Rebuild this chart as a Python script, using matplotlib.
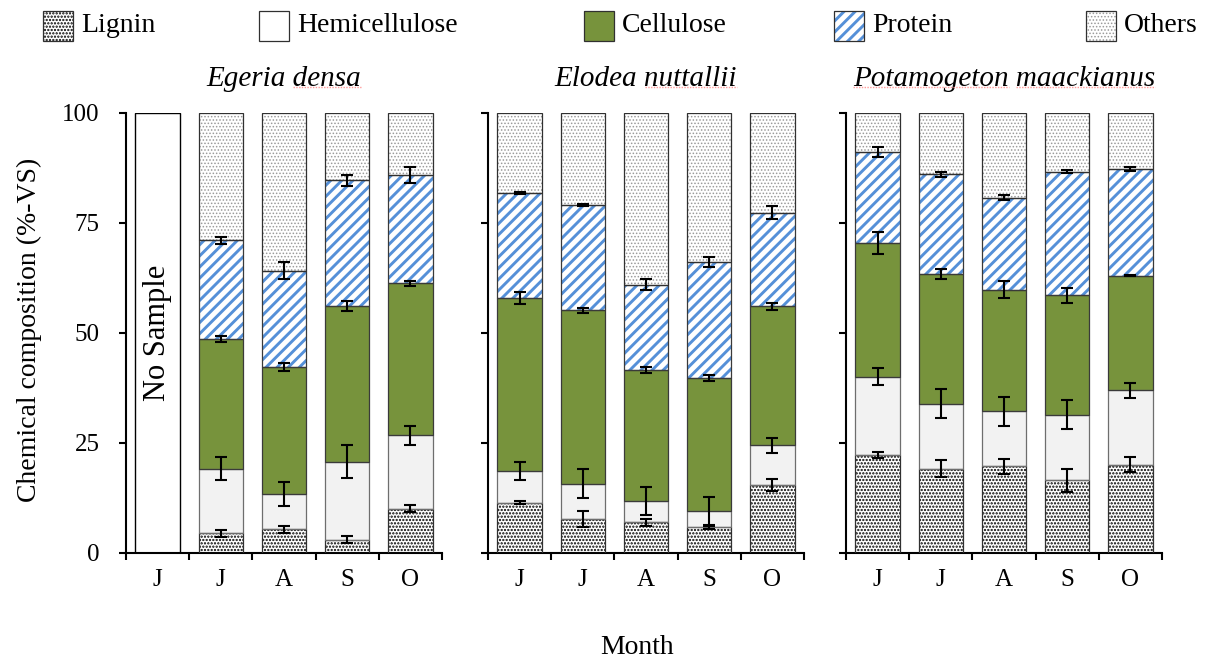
import numpy as np
import matplotlib
matplotlib.use("Agg")
import matplotlib.pyplot as plt
from matplotlib.patches import Rectangle
from matplotlib.lines import Line2D

plt.rcParams['font.family'] = ['Liberation Serif', 'DejaVu Serif']
plt.rcParams['hatch.linewidth'] = 1.0

# ---- data (%-VS), segment sizes ----
species = ['Egeria densa', 'Elodea nuttallii', 'Potamogeton maackianus']
months = ['J', 'J', 'A', 'S', 'O']
components = ['Lignin', 'Hemicellulose', 'Cellulose', 'Protein', 'Others']

# Egeria densa: no sample in June (first month)
egeria_lignin = [np.nan, 4.4, 5.3, 3.0, 10.0]
egeria_hemi = [np.nan, 14.7, 8.1, 17.7, 16.7]
egeria_cell = [np.nan, 29.4, 28.9, 35.4, 34.5]
egeria_prot = [np.nan, 22.5, 21.8, 28.5, 24.6]
egeria_other = [np.nan, 29.0, 35.9, 15.4, 14.2]
egeria_err = [[np.nan, 0.75, 0.8, 0.9, 0.8],
              [np.nan, 2.6, 2.7, 3.8, 2.2],
              [np.nan, 0.65, 0.9, 1.1, 0.5],
              [np.nan, 0.75, 2.0, 1.25, 1.8]]

elodea_lignin = [11.4, 7.6, 6.9, 5.9, 15.4]
elodea_hemi = [7.2, 8.1, 4.9, 3.5, 9.0]
elodea_cell = [39.2, 39.4, 29.7, 30.3, 31.6]
elodea_prot = [24.0, 24.0, 19.4, 26.4, 21.3]
elodea_other = [18.2, 20.9, 39.1, 33.9, 22.7]
elodea_err = [[0.3, 1.8, 0.8, 0.5, 1.3],
              [2.0, 3.3, 3.2, 3.3, 1.7],
              [1.35, 0.6, 0.6, 0.75, 0.75],
              [0.2, 0.2, 1.3, 1.1, 1.4]]

pota_lignin = [22.2, 19.1, 19.6, 16.5, 20.0]
pota_hemi = [17.8, 14.8, 12.5, 14.9, 16.9]
pota_cell = [30.5, 29.4, 27.7, 27.1, 26.1]
pota_prot = [20.5, 22.7, 20.9, 28.1, 24.2]
pota_other = [9.0, 14.0, 19.3, 13.4, 12.8]
pota_err = [[0.6, 1.9, 1.7, 2.6, 1.7],
            [1.9, 3.3, 3.4, 3.3, 1.7],
            [2.5, 1.1, 1.9, 1.7, 0.2],
            [1.1, 0.6, 0.5, 0.3, 0.5]]

all_data = [
    ([egeria_lignin, egeria_hemi, egeria_cell, egeria_prot, egeria_other], egeria_err),
    ([elodea_lignin, elodea_hemi, elodea_cell, elodea_prot, elodea_other], elodea_err),
    ([pota_lignin, pota_hemi, pota_cell, pota_prot, pota_other], pota_err),
]
underline_words = [['last'], ['last'], ['first', 'last']]

# styles: face, hatch, hatch colour, edge colour, hatch line width
styles = {
    'Lignin': dict(face='white', hatch='.....', hc='black', edge='#303030', hlw=1.1),
    'Hemicellulose': dict(face='#f2f2f2', hatch=None, hc='#f2f2f2', edge='#6e6e6e', hlw=1.0),
    'Cellulose': dict(face='#77933c', hatch=None, hc='#77933c', edge='#3a3a3a', hlw=1.0),
    'Protein': dict(face='white', hatch='///', hc='#5590d8', edge='#3a3a3a', hlw=2.1),
    'Others': dict(face='white', hatch='.....', hc='#9a9a9a', edge='#303030', hlw=0.7),
}

fig = plt.figure(figsize=(12.1, 6.66), dpi=100)
W, H = 1210, 666
lefts = [126, 488, 846]
ax_w = 316
bottom_px, top_px = 552.7, 112.7
axes = []
for l in lefts:
    axes.append(fig.add_axes([l / W, 1 - bottom_px / H, ax_w / W, (bottom_px - top_px) / H]))

bw = 0.7
x = np.arange(len(months))
for i, (ax, (segs, errs)) in enumerate(zip(axes, all_data)):
    bottom = np.zeros(len(months))
    for k, (comp, vals) in enumerate(zip(components, segs)):
        vals = np.array(vals, dtype=float)
        st = styles[comp]
        ok = ~np.isnan(vals)
        with plt.rc_context({'hatch.linewidth': st['hlw']}):
            ax.bar(x[ok], vals[ok], bw, bottom=bottom[ok], color=st['face'],
                   edgecolor=st['hc'], hatch=st['hatch'], linewidth=0, zorder=2)
        ax.bar(x[ok], vals[ok], bw, bottom=bottom[ok], fill=False,
               edgecolor=st['edge'], linewidth=0.9, zorder=3)
        top = bottom + np.nan_to_num(vals)
        if k < 4:
            e = np.array(errs[k], dtype=float)
            ax.errorbar(x[ok], top[ok], yerr=e[ok], fmt='none', ecolor='black',
                        elinewidth=1.5, capsize=4, capthick=1.5, zorder=4)
        bottom = top
    if i == 0:
        ax.bar(0, 100, bw, color='white', edgecolor='black', linewidth=1.0, zorder=2)
        ax.text(0, 50, 'No Sample', rotation=90, ha='center', va='center', fontsize=22, zorder=5)

    ax.set_xlim(-0.5, len(months) - 0.5)
    ax.set_ylim(0, 100)
    for s in ['top', 'right']:
        ax.spines[s].set_visible(False)
    for s in ['left', 'bottom']:
        ax.spines[s].set_linewidth(1.5)
    ax.set_xticks(x)
    ax.set_xticklabels(months, fontsize=18)
    ax.set_xticks(np.arange(-0.5, len(months)), minor=True)
    ax.tick_params(axis='x', which='major', length=0, pad=12)
    ax.tick_params(axis='x', which='minor', length=5, width=1.5, direction='out')
    ax.set_yticks([0, 25, 50, 75, 100])
    ax.tick_params(axis='y', length=5, width=1.5, direction='out', labelsize=18, pad=14)
    if i > 0:
        ax.set_yticklabels([])
    ax.set_title(species[i], style='italic', fontsize=21, pad=19)

fig.text(29 / W, 1 - 330 / H, 'Chemical composition (%-VS)', rotation=90,
         ha='center', va='center', fontsize=20)
fig.text(637 / W, 1 - 648 / H, 'Month', ha='center', va='center', fontsize=20)

# legend row across the top
leg_x = [43, 259, 584, 834, 1086]
for comp, lx in zip(components, leg_x):
    st = styles[comp]
    face = 'white' if comp == 'Hemicellulose' else st['face']
    with plt.rc_context({'hatch.linewidth': st['hlw']}):
        fig.patches.append(Rectangle((lx / W, 1 - 41 / H), 30 / W, 30 / H, transform=fig.transFigure,
                                     facecolor=face, edgecolor=st['hc'] if st['hatch'] else face,
                                     hatch=st['hatch'], linewidth=0, figure=fig))
    fig.patches.append(Rectangle((lx / W, 1 - 41 / H), 30 / W, 30 / H, transform=fig.transFigure,
                                 fill=False, edgecolor='#303030', linewidth=0.9, figure=fig))
    fig.text((lx + 38) / W, 1 - 25 / H, comp, ha='left', va='center', fontsize=20)

# faint spell-check underline under the species names
fig.canvas.draw()
r = fig.canvas.get_renderer()
inv = fig.transFigure.inverted()
for ax, name, which in zip(axes, species, underline_words):
    t = ax.title
    bb = t.get_window_extent(r)
    words = name.split()
    for wsel in which:
        word = words[0] if wsel == 'first' else words[-1]
        tmp = fig.text(0, 0, word, fontproperties=t.get_fontproperties())
        ww = tmp.get_window_extent(r).width
        tmp.remove()
        if wsel == 'first':
            x0, x1 = bb.x0, bb.x0 + ww
        else:
            x0, x1 = bb.x1 - ww, bb.x1
        yy = bb.y0 + 5
        (fx0, fy), (fx1, _) = inv.transform([(x0, yy), (x1, yy)])
        fig.add_artist(Line2D([fx0, fx1], [fy, fy], transform=fig.transFigure,
                              color='#ff9a9a', linewidth=1.0, linestyle=(0, (1, 1))))

fig.savefig('out.png', dpi=100)
